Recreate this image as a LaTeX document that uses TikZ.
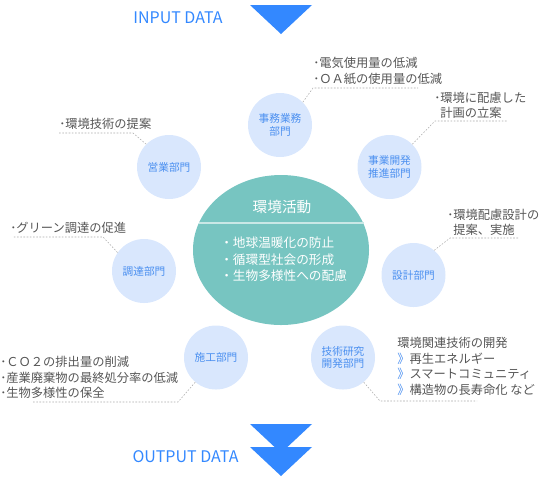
\documentclass[tikz,border=0pt]{standalone}
\usepackage{fontspec}
\setmainfont{Noto Sans CJK JP}
\usetikzlibrary{shapes.geometric}
\definecolor{arrowblue}{HTML}{3388FF}
\definecolor{deptfill}{HTML}{D9E7FD}
\definecolor{depttext}{HTML}{4A8FF0}
\definecolor{mainteal}{HTML}{77C5C1}
\definecolor{notegray}{HTML}{555555}
\definecolor{leadgray}{HTML}{AAAAAA}
\tikzset{
  dept/.style={circle, fill=deptfill, minimum size=48pt, inner sep=0pt,
    text=depttext, font=\fontsize{8}{9.5}\selectfont, align=center},
  note/.style={anchor=west, inner sep=0pt, text=notegray,
    font=\fontsize{9.2}{11.6}\selectfont, align=left},
  leader/.style={draw=leadgray, line width=0.4pt, dash pattern=on 1.2pt off 1.2pt},
  datalabel/.style={text=arrowblue, font=\fontsize{12}{14}\selectfont}
}
\begin{document}
\begin{tikzpicture}[x=0.75pt,y=-0.75pt]
  \useasboundingbox (0,0) rectangle (541,480);
  \fill [arrowblue] (250,5) -- (312,5) -- (281,34) -- cycle;
  \node [datalabel] (input) at (178,18) {INPUT DATA};
  \fill [arrowblue] (250,424) -- (312,424) -- (281,453) -- cycle;
  \fill [arrowblue] (250,447) -- (312,447) -- (281,476) -- cycle;
  \node [datalabel] (output) at (185.5,457) {OUTPUT DATA};

  \node [ellipse, fill=mainteal, minimum width=132pt, minimum height=112.5pt, inner sep=0pt] (katsudo) at (281,250) {};
  \draw [white!60!mainteal, line width=0.8pt] (199,223) -- (364,223);
  \node [text=white, font=\fontsize{11}{12}\selectfont] (title) at (282,207) {環境活動};
  \node [anchor=west, inner sep=0pt, text=white, align=left, font=\fontsize{9.5}{12.4}\selectfont] (goals) at (220,259.5)
    {・地球温暖化の防止\\・循環型社会の形成\\・生物多様性への配慮};

  \node [dept] (jimu) at (280,125) {事務業務\\部門};
  \node [dept] (jigyo) at (389.5,167) {事業開発\\推進部門};
  \node [dept] (eigyo) at (169,167) {営業部門};
  \node [dept] (sekkei) at (413.5,275) {設計部門};
  \node [dept] (chotatsu) at (144,271) {調達部門};
  \node [dept] (seko) at (216,357.5) {施工部門};
  \node [dept] (gijutsu) at (343,357.5) {技術研究\\開発部門};

  \node [note] (jimunote) at (313,71) {･電気使用量の低減\\･ＯＡ紙の使用量の低減};
  \node [note] (jigyonote) at (434,105.5) {･環境に配慮した\\\phantom{･}計画の立案};
  \node [note] (eigyonote) at (59,124) {･環境技術の提案};
  \node [note] (sekkeinote) at (447,222.5) {･環境配慮設計の\\\phantom{･}提案、実施};
  \node [note] (chotatsunote) at (10,228) {･グリーン調達の促進};
  \node [note] (sekonote) at (0,377.5) {･ＣＯ２の排出量の削減\\･産業廃棄物の最終処分率の低減\\･生物多様性の保全};
  \node [note] (gijutsunote) at (397,366.5) {環境関連技術の開発\\{\color{depttext}》}再生エネルギー\\{\color{depttext}》}スマートコミュニティ\\{\color{depttext}》}構造物の長寿命化 など};

  \coordinate (jimuL) at (313,88);      \coordinate (jimuR) at (418,88);
  \coordinate (jigyoL) at (435,121);    \coordinate (jigyoR) at (507,121);
  \coordinate (eigyoR) at (133,133);    \coordinate (eigyoL) at (58,133);
  \coordinate (sekkeiL) at (450,238);   \coordinate (sekkeiR) at (518,238);
  \coordinate (chotatsuR) at (103,237); \coordinate (chotatsuL) at (13,237);
  \coordinate (sekoR) at (178,402);     \coordinate (sekoL) at (32,402);
  \coordinate (gijutsuL) at (380,401);  \coordinate (gijutsuR) at (477,401);
  \draw [leader] (jimu.45) -- (jimuL) -- (jimuR);
  \draw [leader] (jigyo.45) -- (jigyoL) -- (jigyoR);
  \draw [leader] (eigyo.135) -- (eigyoR) -- (eigyoL);
  \draw [leader] (sekkei.50) -- (sekkeiL) -- (sekkeiR);
  \draw [leader] (chotatsu.145) -- (chotatsuR) -- (chotatsuL);
  \draw [leader] (seko.230) -- (sekoR) -- (sekoL);
  \draw [leader] (gijutsu.310) -- (gijutsuL) -- (gijutsuR);
\end{tikzpicture}
\end{document}
